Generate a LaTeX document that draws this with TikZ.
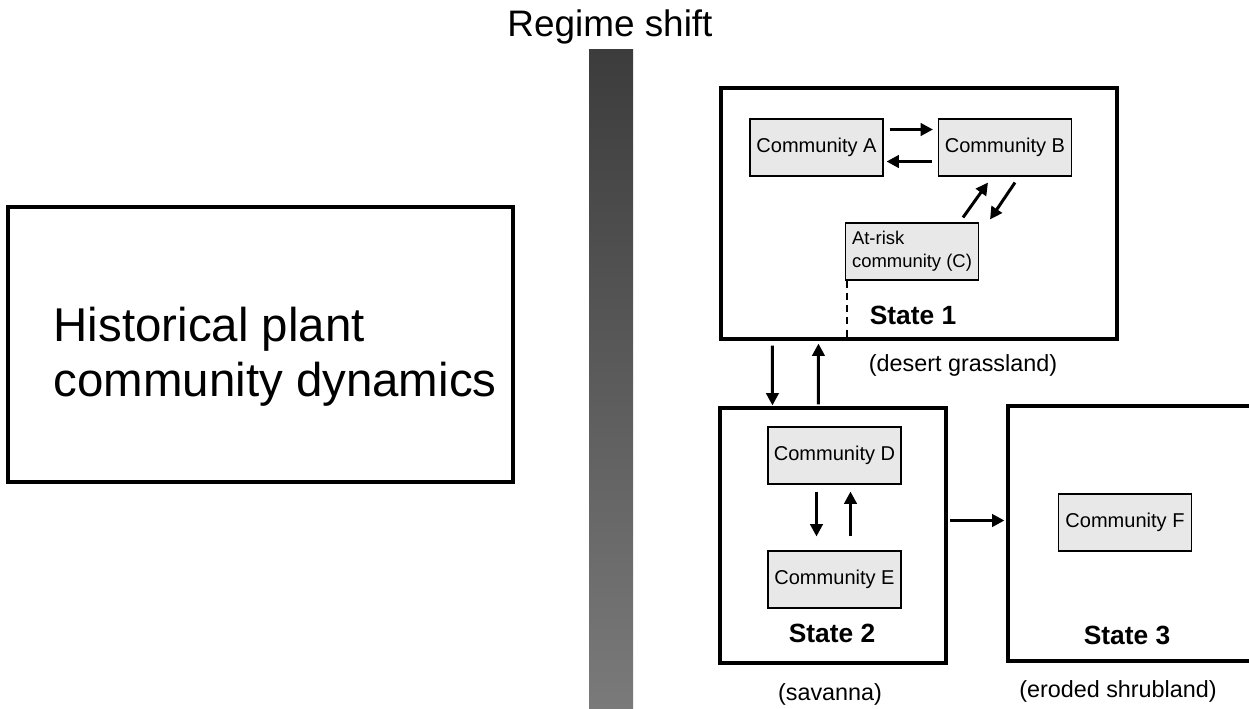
\documentclass[tikz,border=0pt]{standalone}
\usepackage{fontspec}
\setmainfont{Liberation Sans}
\usetikzlibrary{arrows.meta,calc}
\definecolor{commfill}{RGB}{232,232,232}
\definecolor{bartop}{RGB}{60,60,60}
\definecolor{barbottom}{RGB}{122,122,122}
\begin{document}
\begin{tikzpicture}[x=0.02cm,y=-0.02cm,
statebox/.style={draw,line width=1.8pt,inner sep=0pt},
commbox/.style={draw,line width=0.6pt,fill=commfill,minimum width=2.66cm,minimum height=1.14cm,inner sep=0pt,font=\fontsize{11.4}{12.6}\selectfont},
statelabel/.style={font=\fontsize{15}{18}\selectfont\bfseries},
caption/.style={font=\fontsize{13.3}{16}\selectfont},
trans/.style={line width=1.7pt,-{Triangle[length=7pt,width=7pt]}}]
\useasboundingbox (0,0) rectangle (1249,708);
\shade[top color=bartop,bottom color=barbottom] (589,49) rectangle (633,708);
\node[anchor=base,font=\fontsize{21}{25}\selectfont] (regime) at (610,36) {Regime shift};
\node[draw,line width=1.8pt,minimum width=10.1cm,minimum height=5.5cm] (hist) at (260.5,344.5) {};
\node[anchor=west,align=left,font=\fontsize{27}{31}\selectfont] (histtext) at ($(hist.west)+(41,12)$) {Historical plant\\community dynamics};
\node[statebox,minimum width=7.92cm,minimum height=5.02cm] (s1) at (919,213.5) {};
\node[statebox,minimum width=4.52cm,minimum height=5.1cm] (s2) at (833,535.5) {};
\node[statebox,minimum width=5.14cm,minimum height=5.1cm] (s3) at (1136.5,533.5) {};
\node[commbox] (ca) at (816.5,147.5) {Community A};
\node[commbox] (cb) at (1005,147.5) {Community B};
\node[commbox,align=left,font=\fontsize{10.5}{13}\selectfont] (cc) at (912,251.5) {At-risk\\community (C)};
\node[commbox] (cd) at (834.5,455.5) {Community D};
\node[commbox] (ce) at (834.5,579.5) {Community E};
\node[commbox] (cf) at (1125,522.5) {Community F};
\node[statelabel] (l1) at (913,315) {State 1};
\node[statelabel] (l2) at (832,633) {State 2};
\node[statelabel] (l3) at (1127,635) {State 3};
\node[caption] (n1) at (963,365) {(desert grassland)};
\node[caption] (n2) at (830,694) {(savanna)};
\node[caption] (n3) at (1118,691) {(eroded shrubland)};
\draw[trans] ($(ca.east)+(6,-18)$) -- ($(cb.west)+(-5,-18)$);
\draw[trans] ($(cb.west)+(-6,14)$) -- ($(ca.east)+(3,14)$);
\draw[trans] ($(cc.north)+(51,-5)$) -- ($(cb.south)+(-17,6)$);
\draw[trans] ($(cb.south)+(10,6)$) -- ($(cc.north east)+(11,-3)$);
\coordinate (dash) at ($(cc.south west)+(2,0)$);
\draw[line width=1.6pt,dash pattern=on 4pt off 3pt] (dash) -- (dash |- s1.south);
\draw[trans] ($(s1.south west)+(53,5)$) -- ($(s2.north west)+(54,-1)$);
\draw[trans] ($(s2.north west)+(100,-2)$) -- ($(s1.south west)+(99,3)$);
\draw[trans] ($(cd.south)+(-18,7)$) -- ($(ce.north)+(-18,-14)$);
\draw[trans] ($(ce.north)+(16,-14)$) -- ($(cd.south)+(16,7)$);
\draw[trans] ($(s2.east)+(2,-15)$) -- ($(s3.west)+(-2,-13)$);
\end{tikzpicture}
\end{document}
